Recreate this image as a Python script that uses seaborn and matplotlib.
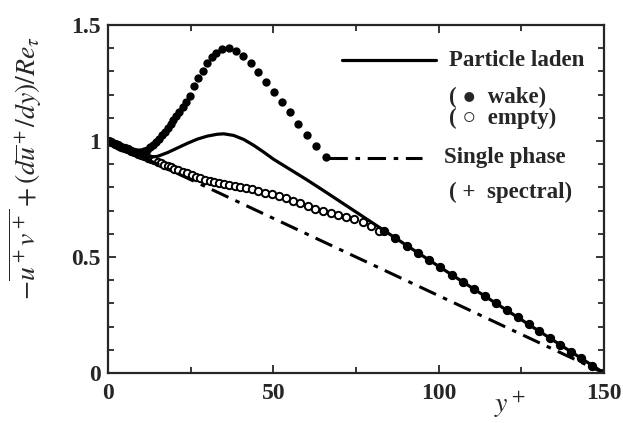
import numpy as np
import pandas as pd
import matplotlib
matplotlib.use("Agg")
import matplotlib.pyplot as plt
import seaborn as sns
from matplotlib.lines import Line2D
from matplotlib.ticker import MultipleLocator, FormatStrFormatter

# particle laden, solid line
laden_y = [0, 3, 6, 9, 12, 15, 18, 21, 24, 27, 30, 33, 35, 38, 41, 44, 47,
           50, 55, 60, 65, 70, 75, 80, 85, 90, 100, 110, 120, 130, 140, 150]
laden_val = [1.0, 0.975, 0.952, 0.936, 0.929, 0.934, 0.950, 0.970, 0.990,
             1.008, 1.021, 1.029, 1.031, 1.024, 1.007, 0.982, 0.953,
             0.922, 0.878, 0.834, 0.788, 0.741, 0.694, 0.647, 0.600, 0.553,
             0.460, 0.368, 0.276, 0.184, 0.092, 0.0]

# single phase, dash-dot line
single_y = [0, 150]
single_val = [1.0, 0.0]

# wake (filled circles), near wall and bump
wake_y = [0.0, 0.5, 1.0, 1.6, 2.3, 3.0, 3.8, 4.6, 5.5, 6.4, 7.3, 8.2, 9.1,
          10.0, 10.9, 11.8, 12.7, 13.6, 14.5, 15.4, 16.2, 17.1, 18.0, 18.9,
          19.8, 20.7, 21.6, 22.6, 23.6, 24.7, 25.9, 27.2, 28.6, 30.0, 31.3,
          32.7, 34.6, 36.6, 38.7, 40.8, 43.1, 45.5, 47.8, 50.1, 52.6, 55.0,
          57.5, 60.3, 63.0, 65.9]
wake_val = [1.0, 0.998, 0.995, 0.990, 0.985, 0.980, 0.975, 0.970, 0.965,
            0.960, 0.955, 0.952, 0.951, 0.953, 0.957, 0.963, 0.972, 0.983,
            0.995, 1.009, 1.024, 1.040, 1.056, 1.073, 1.090, 1.108, 1.127,
            1.148, 1.170, 1.195, 1.235, 1.270, 1.300, 1.335, 1.360, 1.378,
            1.396, 1.400, 1.389, 1.368, 1.335, 1.299, 1.256, 1.213, 1.169,
            1.124, 1.073, 1.026, 0.978, 0.930]

# empty (open circles)
empty_y = [0.0, 1.0, 2.0, 3.0, 4.0, 5.0, 6.0, 7.0, 8.0, 9.0, 10.0, 11.0,
           12.0, 13.0, 14.0, 15.0, 16.0, 17.0, 18.0, 19.0, 20.0, 21.3, 22.7,
           24.0, 25.3, 26.6, 27.9, 29.3, 30.7, 32.1, 33.6, 35.1, 36.7, 38.3,
           40.0, 41.8, 43.6, 45.5, 47.5, 49.5, 51.6, 53.7, 55.9, 58.1, 60.4,
           62.7, 65.0, 67.3, 69.7, 72.1, 74.5, 77.0, 79.5, 82.0]
empty_val = [1.0, 0.994, 0.988, 0.982, 0.976, 0.970, 0.964, 0.958, 0.952,
             0.946, 0.940, 0.934, 0.928, 0.922, 0.916, 0.910, 0.904, 0.898,
             0.892, 0.886, 0.880, 0.873, 0.866, 0.860, 0.852, 0.845, 0.839,
             0.834, 0.829, 0.824, 0.818, 0.814, 0.810, 0.806, 0.802, 0.797,
             0.791, 0.784, 0.777, 0.770, 0.762, 0.754, 0.743, 0.731, 0.720,
             0.708, 0.697, 0.688, 0.680, 0.673, 0.665, 0.652, 0.632, 0.612]

# outer region where both particle-laden datasets sit on the line
outer_y = [83.5, 86.9, 90.3, 93.7, 97.1, 100.5, 103.9, 107.3, 110.6, 114.0,
           117.3, 120.6, 123.9, 127.2, 130.4, 133.6, 136.8, 140.0, 143.2,
           146.5, 149.8]
outer_val = [0.612, 0.581, 0.549, 0.518, 0.487, 0.455, 0.424, 0.393, 0.362,
             0.331, 0.301, 0.270, 0.240, 0.210, 0.180, 0.151, 0.121, 0.092,
             0.063, 0.032, 0.002]

sns.set_style("ticks")
plt.rcParams['font.family'] = ['Liberation Serif', 'DejaVu Serif']
plt.rcParams['mathtext.fontset'] = 'stix'

laden = pd.DataFrame({'y': laden_y, 'v': laden_val})
single = pd.DataFrame({'y': single_y, 'v': single_val})
wake = pd.DataFrame({'y': wake_y + outer_y, 'v': wake_val + outer_val})
empty = pd.DataFrame({'y': empty_y + outer_y, 'v': empty_val + outer_val})

fig = plt.figure(figsize=(6.23, 4.23), dpi=100)
ax = fig.add_axes([0.1734, 0.1182, 0.7960, 0.8227])

dashdot = (0, (6, 2.5, 1.5, 2.5))
sns.lineplot(data=single, x='y', y='v', ax=ax, color='black', lw=2.2,
             linestyle=dashdot)
sns.scatterplot(data=empty, x='y', y='v', ax=ax, marker='o', s=28,
                facecolor='white', edgecolor='black', linewidth=1.4)
sns.lineplot(data=laden, x='y', y='v', ax=ax, color='black', lw=2.3)
sns.scatterplot(data=wake, x='y', y='v', ax=ax, marker='o', s=36,
                color='black', edgecolor='black', linewidth=0)

ax.set_xlim(0, 150)
ax.set_ylim(0, 1.5)
ax.xaxis.set_major_locator(MultipleLocator(50))
ax.xaxis.set_minor_locator(MultipleLocator(25))
ax.yaxis.set_major_locator(MultipleLocator(0.5))
ax.yaxis.set_minor_locator(MultipleLocator(0.1))
ax.xaxis.set_major_formatter(FormatStrFormatter('%g'))
ax.yaxis.set_major_formatter(FormatStrFormatter('%g'))
ax.tick_params(which='both', direction='in', top=True, right=True,
               width=1.3, labelsize=17)
ax.tick_params(which='major', length=6)
ax.tick_params(which='minor', length=4)
ax.tick_params(axis='x', pad=7)
ax.tick_params(axis='y', pad=5)
for lab in ax.get_xticklabels() + ax.get_yticklabels():
    lab.set_fontweight('bold')
for sp in ax.spines.values():
    sp.set_linewidth(1.6)

ax.set_xlabel(r'$y^+$', fontsize=20)
ax.xaxis.set_label_coords(0.81, -0.045)
ax.set_ylabel(r'$-\overline{u^+v^+}+(d\overline{u}^+/dy)/Re_\tau$', fontsize=20)
ax.yaxis.set_label_coords(-0.13, 0.59)

# legend drawn as text and samples in axes fraction
tr = ax.transAxes
ax.add_line(Line2D([0.472, 0.661], [0.899, 0.899], transform=tr,
                   color='black', lw=2.3))
ax.add_line(Line2D([0.446, 0.633], [0.618, 0.618], transform=tr,
                   color='black', lw=2.2, linestyle=dashdot))
labels = [(0.687, 0.899, 'Particle laden'),
          (0.687, 0.793, '( \u25cf  wake)'),
          (0.687, 0.733, '( \u25cb  empty)'),
          (0.677, 0.618, 'Single phase'),
          (0.687, 0.520, '( +  spectral)')]
for x, y, t in labels:
    ax.text(x, y, t, transform=tr, fontsize=16.5, fontweight='bold',
            ha='left', va='center')

fig.savefig('out.png', dpi=100)
